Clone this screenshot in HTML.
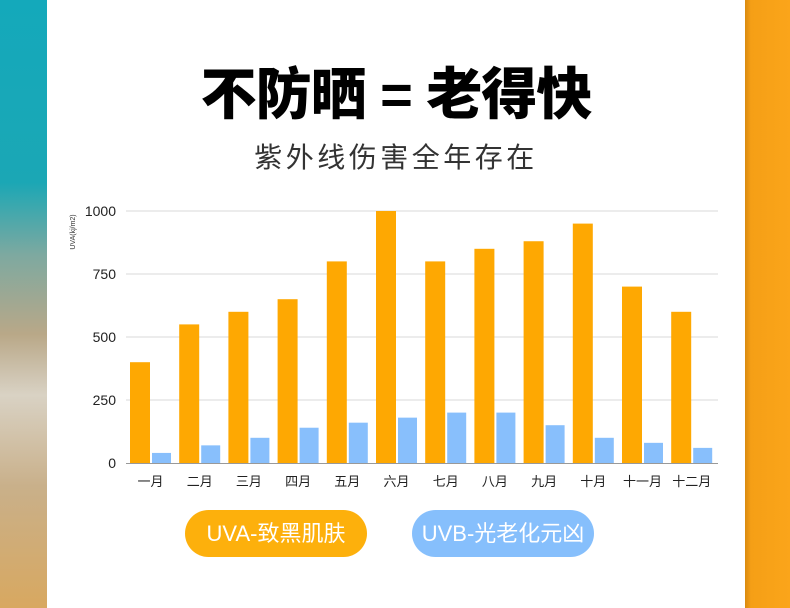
<!DOCTYPE html>
<html><head><meta charset="utf-8"><style>
body{margin:0;width:790px;height:608px;overflow:hidden;background:#fff;font-family:"Liberation Sans","Noto Sans CJK SC",sans-serif;position:relative}
.l{position:absolute;left:0;top:0;width:47px;height:608px;background:linear-gradient(180deg,#14a9bb 0%,#1ba7b5 30%,#7ea9a0 42%,#b9a888 55%,#d9d2c4 65%,#c9b08a 80%,#d8a860 100%)}
.r{position:absolute;left:745px;top:0;width:45px;height:608px;background:linear-gradient(90deg,#d98a10 0,#f59f16 6px,#fba51a 100%)}
.t{position:absolute;left:47px;width:698px;text-align:center;top:60px;font-size:56px;font-weight:900;color:#000;line-height:70px;letter-spacing:-1px}
.s{position:absolute;left:47px;width:698px;text-align:center;top:140px;font-size:28px;color:#333;letter-spacing:3.5px;line-height:36px}
.b{position:absolute;top:510px;height:47px;width:182px;border-radius:24px;color:#fff;font-size:22px;text-align:center;line-height:47px}
</style></head><body>
<div class="l"></div><div class="r"></div>
<div class="t">不防晒 = 老得快</div>
<div class="s">紫外线伤害全年存在</div>
<svg style="position:absolute;left:0;top:0" width="790" height="608">
<g stroke="#e6e6e6" stroke-width="1.5">
<line x1="126" x2="718" y1="211" y2="211"/><line x1="126" x2="718" y1="274" y2="274"/><line x1="126" x2="718" y1="337" y2="337"/><line x1="126" x2="718" y1="400" y2="400"/>
</g>
<g font-size="14" fill="#222" text-anchor="end" font-family="Liberation Sans,sans-serif">
<text x="116" y="216">1000</text><text x="116" y="279">750</text><text x="116" y="342">500</text><text x="116" y="405">250</text><text x="116" y="468">0</text>
</g>
<text transform="translate(75,232) rotate(-90)" font-size="7" fill="#333" text-anchor="middle">UVA(kj/m2)</text>
<g id="bars"></g>
<line x1="126" x2="718" y1="463.5" y2="463.5" stroke="#999" stroke-width="1"/>
<g id="lab" font-size="13" fill="#222" text-anchor="middle" font-family="Liberation Sans,Noto Sans CJK SC,sans-serif"></g>
</svg>
<div class="b" style="left:185px;background:#fdb00c">UVA-致黑肌肤</div>
<div class="b" style="left:412px;background:#86bffc">UVB-光老化元凶</div>
<script>
var a=[400,550,600,650,800,1000,800,850,880,950,700,600],u=[40,70,100,140,160,180,200,200,150,100,80,60];
var n=["一月","二月","三月","四月","五月","六月","七月","八月","九月","十月","十一月","十二月"];
var s="",t="";
for(var i=0;i<12;i++){var x=130+i*49.2;var h=a[i]*0.252,k=u[i]*0.252;
s+='<rect x="'+x+'" y="'+(463-h)+'" width="20" height="'+h+'" fill="#fea802"/>';
s+='<rect x="'+(x+22)+'" y="'+(463-k)+'" width="19" height="'+k+'" fill="#88bffc"/>';
t+='<text x="'+(x+20.5)+'" y="486">'+n[i]+'</text>';}
document.getElementById("bars").innerHTML=s;document.getElementById("lab").innerHTML=t;
</script>
</body></html>
